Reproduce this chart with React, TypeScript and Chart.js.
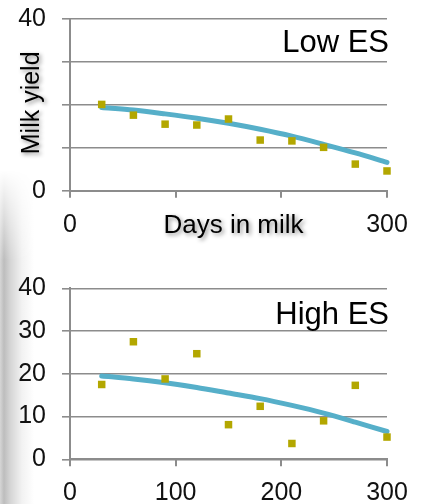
import React, { useEffect, useRef } from "react";
import { Chart, registerables } from "chart.js";

Chart.register(...registerables);

// ---- data ----
const days = [30, 60, 90, 120, 150, 180, 210, 240, 270, 300];
const lowES = [20.1, 17.6, 15.5, 15.3, 16.7, 11.8, 11.6, 10.1, 6.2, 4.6];
const lowTrend = [19.4, 18.8, 17.9, 16.9, 15.7, 14.3, 12.7, 10.8, 8.8, 6.6];
const highES = [17.5, 27.5, 18.8, 24.7, 8.1, 12.4, 3.7, 9.0, 17.3, 5.2];
const highTrend = [19.5, 18.8, 17.9, 16.8, 15.5, 14.2, 12.6, 10.8, 8.7, 6.5];
const yTicks = [0, 10, 20, 30, 40];
const xTicks = [0, 100, 200, 300];
const lowYLabels = [0, 40];
const lowXLabels = [0, 300];

const FONT = '"Liberation Sans", Arial, sans-serif';
const GRID = "#8c8c8c";
const POINT = "#b3a700";
const LINE = "#56afc9";

const panelText = {
  id: "panelText",
  afterDraw(chart: any, _args: any, opts: any) {
    const { ctx, chartArea } = chart;
    const { left, right, top, bottom } = chartArea;
    ctx.save();
    ctx.fillStyle = "#000";
    ctx.font = `31px ${FONT}`;
    ctx.textAlign = "right";
    ctx.textBaseline = "alphabetic";
    ctx.fillText(opts.label, right + 2, top + opts.labelOffset);
    ctx.shadowColor = "rgba(0,0,0,0.45)";
    ctx.shadowBlur = 4;
    ctx.shadowOffsetX = 2;
    ctx.shadowOffsetY = 2;
    if (opts.xTitle) {
      ctx.font = `26px ${FONT}`;
      ctx.textAlign = "center";
      ctx.fillText(opts.xTitle, (left + right) / 2 + 5, bottom + 42.6);
    }
    if (opts.yTitle) {
      ctx.font = `25px ${FONT}`;
      ctx.textAlign = "center";
      ctx.textBaseline = "middle";
      ctx.translate(32, (top + bottom) / 2 - 2);
      ctx.rotate(-Math.PI / 2);
      ctx.fillText(opts.yTitle, 0, 0);
    }
    ctx.restore();
  },
};

type PanelProps = {
  points: number[];
  trend: number[];
  label: string;
  labelOffset: number;
  height: number;
  topPad: number;
  plotBottom: number;
  yLabels?: number[];
  xLabels?: number[];
  xTitle?: string;
  yTitle?: string;
};

function Panel(p: PanelProps) {
  const ref = useRef<HTMLCanvasElement>(null);
  useEffect(() => {
    if (!ref.current) return;
    const chart = new Chart(ref.current, {
      type: "line",
      data: {
        datasets: [
          {
            label: "Observed",
            data: days.map((d, i) => ({ x: d, y: p.points[i] })),
            showLine: false,
            pointStyle: "rect",
            pointRadius: 5.3,
            pointBorderWidth: 0,
            pointBackgroundColor: POINT,
            borderColor: POINT,
            backgroundColor: POINT,
            clip: false as any,
          },
          {
            label: "Trend",
            data: days.map((d, i) => ({ x: d, y: p.trend[i] })),
            borderColor: LINE,
            borderWidth: 5,
            borderCapStyle: "round",
            pointRadius: 0,
            tension: 0.3,
            fill: false,
            clip: false as any,
          },
        ],
      },
      options: {
        responsive: false,
        animation: false,
        layout: { padding: { left: 0, right: 34, top: p.topPad, bottom: 0 } },
        plugins: {
          legend: { display: false },
          tooltip: { enabled: false },
          panelText: {
            label: p.label,
            labelOffset: p.labelOffset,
            xTitle: p.xTitle,
            yTitle: p.yTitle,
          },
        } as any,
        scales: {
          x: {
            type: "linear",
            min: 0,
            max: 300,
            afterBuildTicks: (s: any) => {
              s.ticks = xTicks.map((v) => ({ value: v }));
            },
            afterFit: (s: any) => {
              s.height = p.height - p.plotBottom;
              s.paddingLeft = 0;
              s.paddingRight = 0;
              s.paddingTop = 0;
              s.paddingBottom = 0;
            },
            ticks: {
              padding: 12,
              color: "#111",
              font: { family: FONT, size: 25 },
              maxRotation: 0,
              autoSkip: false,
              callback: (v: any) =>
                !p.xLabels || p.xLabels.includes(Number(v)) ? String(v) : "",
            },
            grid: {
              drawOnChartArea: false,
              drawTicks: true,
              tickLength: 7,
              color: GRID,
              lineWidth: 2,
            },
            border: { display: true, color: GRID, width: 2 },
          },
          y: {
            type: "linear",
            min: 0,
            max: 40,
            afterBuildTicks: (s: any) => {
              s.ticks = yTicks.map((v) => ({ value: v }));
            },
            afterFit: (s: any) => {
              s.width = 70;
              s.paddingTop = 0;
              s.paddingBottom = 0;
              s.paddingLeft = 0;
              s.paddingRight = 0;
            },
            ticks: {
              padding: 16,
              color: "#111",
              font: { family: FONT, size: 25 },
              autoSkip: false,
              callback: (v: any) =>
                !p.yLabels || p.yLabels.includes(Number(v)) ? String(v) : "",
            },
            grid: {
              drawOnChartArea: true,
              drawTicks: true,
              tickLength: 8,
              color: GRID,
              lineWidth: 1.6,
            },
            border: { display: true, color: GRID, width: 2 },
          },
        },
      },
      plugins: [panelText],
    } as any);
    return () => chart.destroy();
  }, []);
  return (
    <canvas
      ref={ref}
      width={421}
      height={p.height}
      style={{ display: "block", width: 421, height: p.height }}
    />
  );
}

export default function App() {
  return (
    <div
      style={{
        position: "absolute",
        left: 0,
        top: 0,
        width: 421,
        height: 504,
        overflow: "hidden",
        background: "#fff",
      }}
    >
      <div
        style={{
          position: "absolute",
          left: 0,
          top: 170,
          width: 34,
          height: 334,
          background:
            "linear-gradient(to right, #d6d6d6 0px, #bdbdbd 4px, #d4d4d4 10px, #f2f2f2 22px, #ffffff 34px)",
          WebkitMaskImage:
            "linear-gradient(to bottom, transparent 0px, black 90px, black 100%)",
          maskImage:
            "linear-gradient(to bottom, transparent 0px, black 90px, black 100%)",
        }}
      />
      <div style={{ position: "absolute", left: 0, top: 0 }}>
        <Panel
          points={lowES}
          trend={lowTrend}
          label="Low ES"
          labelOffset={32.5}
          height={250}
          topPad={19}
          plotBottom={190.7}
          yLabels={lowYLabels}
          xLabels={lowXLabels}
          xTitle="Days in milk"
          yTitle="Milk yield"
        />
      </div>
      <div style={{ position: "absolute", left: 0, top: 250 }}>
        <Panel
          points={highES}
          trend={highTrend}
          label="High ES"
          labelOffset={35.7}
          height={254}
          topPad={38.3}
          plotBottom={209.3}
        />
      </div>
    </div>
  );
}
